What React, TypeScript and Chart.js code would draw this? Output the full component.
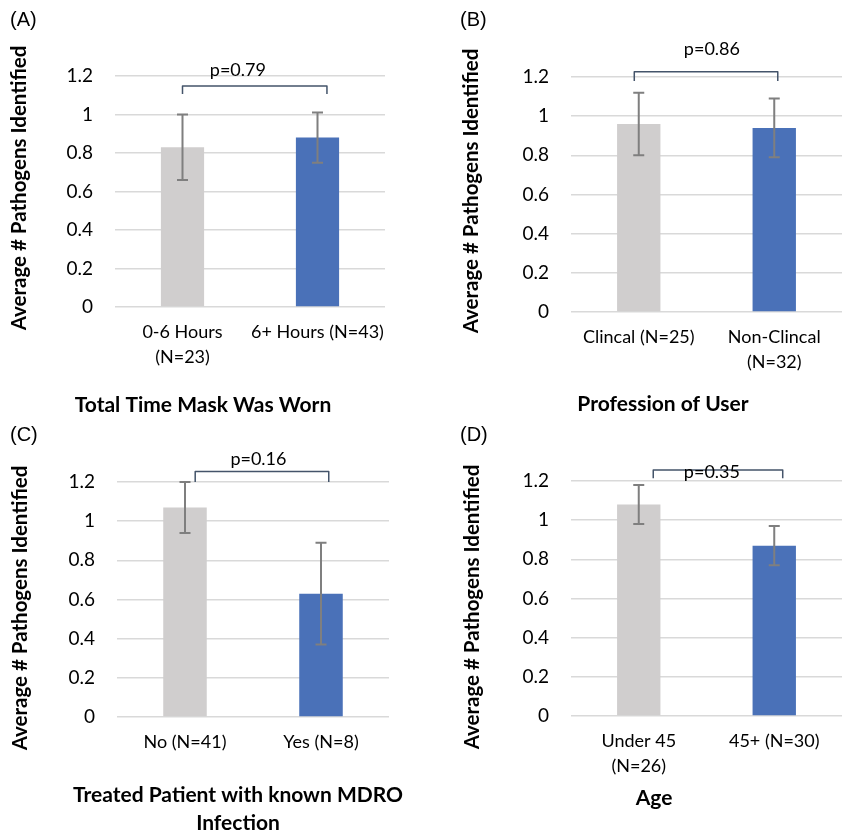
import React, { useEffect, useRef } from "react";
import { Chart, registerables } from "chart.js";

Chart.register(...registerables);

// ---------- data ----------
const panelLabels = ["(A)", "(B)", "(C)", "(D)"];
const yTitleText = "Average # Pathogens Identified";
const yTickLabels = ["0", "0.2", "0.4", "0.6", "0.8", "1", "1.2"];
const barColors = ["#D0CECE", "#4A71B8"];

const categoriesA = [["0-6 Hours", "(N=23)"], "6+ Hours (N=43)"];
const meansA = [0.83, 0.88];
const errorsA = [0.17, 0.13];
const pValueA = "p=0.79";
const xTitleA = ["Total Time Mask Was Worn"];

const categoriesB = ["Clincal (N=25)", ["Non-Clincal", "(N=32)"]];
const meansB = [0.96, 0.94];
const errorsB = [0.16, 0.15];
const pValueB = "p=0.86";
const xTitleB = ["Profession of User"];

const categoriesC = ["No (N=41)", "Yes (N=8)"];
const meansC = [1.07, 0.63];
const errorsC = [0.13, 0.26];
const pValueC = "p=0.16";
const xTitleC = ["Treated Patient with known MDRO", "Infection"];

const categoriesD = [["Under 45", "(N=26)"], "45+ (N=30)"];
const meansD = [1.08, 0.87];
const errorsD = [0.1, 0.1];
const pValueD = "p=0.35";
const xTitleD = ["Age"];

// ---------- layout (positions / sizes only) ----------
const FONT = "Lato, 'Open Sans', sans-serif";

const panels = [
  {
    label: panelLabels[0], categories: categoriesA, means: meansA, errors: errorsA, p: pValueA, xTitle: xTitleA,
    left: 0, top: 0, w: 425, h: 420,
    area: { l: 115, r: 385, t: 76, b: 307 },
    labelPos: { x: 10, y: 20 }, yTitlePos: { x: 19, y: 188 }, xTitlePos: { x: 203, y: 405 },
    bracket: { u0: 0.0, u1: 1.07, line: 1.148, leg: 1.106 }, pPos: { u: 0.41, v: 1.231 },
  },
  {
    label: panelLabels[1], categories: categoriesB, means: meansB, errors: errorsB, p: pValueB, xTitle: xTitleB,
    left: 425, top: 0, w: 424, h: 420,
    area: { l: 146, r: 417, t: 77, b: 312 },
    labelPos: { x: 35, y: 20 }, yTitlePos: { x: 46, y: 191 }, xTitlePos: { x: 238, y: 404 },
    bracket: { u0: -0.033, u1: 1.026, line: 1.227, leg: 1.18 }, pPos: { u: 0.54, v: 1.342 },
  },
  {
    label: panelLabels[2], categories: categoriesC, means: meansC, errors: errorsC, p: pValueC, xTitle: xTitleC,
    left: 0, top: 420, w: 425, h: 414,
    area: { l: 117, r: 389, t: 62, b: 297 },
    labelPos: { x: 10, y: 15 }, yTitlePos: { x: 20, y: 188 }, xTitlePos: { x: 238, y: 375 },
    bracket: { u0: 0.075, u1: 1.057, line: 1.254, leg: 1.2 }, pPos: { u: 0.54, v: 1.316 },
  },
  {
    label: panelLabels[3], categories: categoriesD, means: meansD, errors: errorsD, p: pValueD, xTitle: xTitleD,
    left: 425, top: 420, w: 424, h: 414,
    area: { l: 146, r: 417, t: 61, b: 296 },
    labelPos: { x: 35, y: 15 }, yTitlePos: { x: 47, y: 187 }, xTitlePos: { x: 229, y: 378 },
    bracket: { u0: 0.107, u1: 1.0625, line: 1.256, leg: 1.214 }, pPos: { u: 0.54, v: 1.247 },
  },
];

const annotatePlugin = {
  id: "annotate",
  afterDatasetsDraw(chart: any, _args: any, opts: any) {
    const ctx = chart.ctx;
    const xs = chart.scales.x;
    const ys = chart.scales.y;
    // error bars
    ctx.save();
    ctx.strokeStyle = "#7F7F7F";
    ctx.lineWidth = 2;
    opts.means.forEach((m: number, i: number) => {
      const e = opts.errors[i];
      const px = xs.getPixelForValue(i);
      const t = ys.getPixelForValue(m + e);
      const b = ys.getPixelForValue(m - e);
      ctx.beginPath();
      ctx.moveTo(px, t);
      ctx.lineTo(px, b);
      ctx.moveTo(px - 5.5, t);
      ctx.lineTo(px + 5.5, t);
      ctx.moveTo(px - 5.5, b);
      ctx.lineTo(px + 5.5, b);
      ctx.stroke();
    });
    ctx.restore();
  },
  afterDraw(chart: any, _args: any, opts: any) {
    const ctx = chart.ctx;
    const xs = chart.scales.x;
    const ys = chart.scales.y;
    const c0 = xs.getPixelForValue(0);
    const c1 = xs.getPixelForValue(1);
    const ux = (u: number) => c0 + u * (c1 - c0);
    // bracket
    const br = opts.bracket;
    ctx.save();
    ctx.strokeStyle = "#44546A";
    ctx.lineWidth = 1.5;
    ctx.lineJoin = "round";
    ctx.beginPath();
    ctx.moveTo(ux(br.u0), ys.getPixelForValue(br.leg));
    ctx.lineTo(ux(br.u0), ys.getPixelForValue(br.line));
    ctx.lineTo(ux(br.u1), ys.getPixelForValue(br.line));
    ctx.lineTo(ux(br.u1), ys.getPixelForValue(br.leg));
    ctx.stroke();
    // p value
    ctx.fillStyle = "#000";
    ctx.font = `18px ${FONT}`;
    ctx.textAlign = "center";
    ctx.textBaseline = "middle";
    ctx.fillText(opts.p, ux(opts.pPos.u), ys.getPixelForValue(opts.pPos.v));
    // panel label
    ctx.font = "20px 'Liberation Sans', Arial, sans-serif";
    ctx.textAlign = "left";
    ctx.fillText(opts.label, opts.labelPos.x, opts.labelPos.y);
    // y title
    ctx.font = `bold 20.5px ${FONT}`;
    ctx.save();
    ctx.translate(opts.yTitlePos.x, opts.yTitlePos.y);
    ctx.rotate(-Math.PI / 2);
    ctx.textAlign = "center";
    ctx.fillText(opts.yTitle, 0, 0);
    ctx.restore();
    // x title
    ctx.font = `bold 21px ${FONT}`;
    ctx.textAlign = "center";
    opts.xTitle.forEach((line: string, i: number) => {
      ctx.fillText(line, opts.xTitlePos.x, opts.xTitlePos.y + i * 28);
    });
    ctx.restore();
  },
};

function Panel({ cfg }: { cfg: any }) {
  const ref = useRef<HTMLCanvasElement | null>(null);
  useEffect(() => {
    if (!ref.current) return;
    const a = cfg.area;
    const chart = new Chart(ref.current, {
      type: "bar",
      data: {
        labels: cfg.categories,
        datasets: [
          {
            data: cfg.means,
            backgroundColor: barColors,
            borderWidth: 0,
            barPercentage: 0.32,
            categoryPercentage: 1,
          },
        ],
      },
      options: {
        responsive: false,
        animation: false,
        events: [],
        layout: { padding: { left: 0, top: a.t, right: cfg.w - a.r, bottom: 0 } },
        plugins: {
          legend: { display: false },
          tooltip: { enabled: false },
          annotate: {
            means: cfg.means,
            errors: cfg.errors,
            bracket: cfg.bracket,
            p: cfg.p,
            pPos: cfg.pPos,
            label: cfg.label,
            labelPos: cfg.labelPos,
            yTitle: yTitleText,
            yTitlePos: cfg.yTitlePos,
            xTitle: cfg.xTitle,
            xTitlePos: cfg.xTitlePos,
          },
        } as any,
        scales: {
          x: {
            grid: { display: false, drawTicks: false },
            border: { display: false },
            ticks: {
              color: "#000",
              padding: 13,
              maxRotation: 0,
              autoSkip: false,
              font: { family: FONT, size: 18, lineHeight: 1.39 },
            },
            afterFit: (s: any) => {
              s.height = cfg.h - a.b;
              s.paddingLeft = 0;
              s.paddingRight = 0;
            },
          },
          y: {
            min: 0,
            max: 1.2,
            grid: { color: "#D9D9D9", lineWidth: 1.5, drawTicks: false },
            border: { display: false },
            ticks: {
              stepSize: 0.2,
              color: "#000",
              padding: 22,
              font: { family: FONT, size: 19 },
              callback: (v: any, i: number) => yTickLabels[i] ?? String(v),
            },
            afterFit: (s: any) => {
              s.width = a.l;
              s.paddingTop = 0;
              s.paddingBottom = 0;
            },
          },
        },
      },
      plugins: [annotatePlugin as any],
    });
    return () => chart.destroy();
  }, [cfg]);
  return (
    <canvas
      ref={ref}
      width={cfg.w}
      height={cfg.h}
      style={{ position: "absolute", left: cfg.left, top: cfg.top, width: cfg.w, height: cfg.h }}
    />
  );
}

export default function App() {
  return (
    <div style={{ position: "absolute", left: 0, top: 0, width: 849, height: 834, background: "#fff" }}>
      {panels.map((p, i) => (
        <Panel key={i} cfg={p} />
      ))}
    </div>
  );
}
